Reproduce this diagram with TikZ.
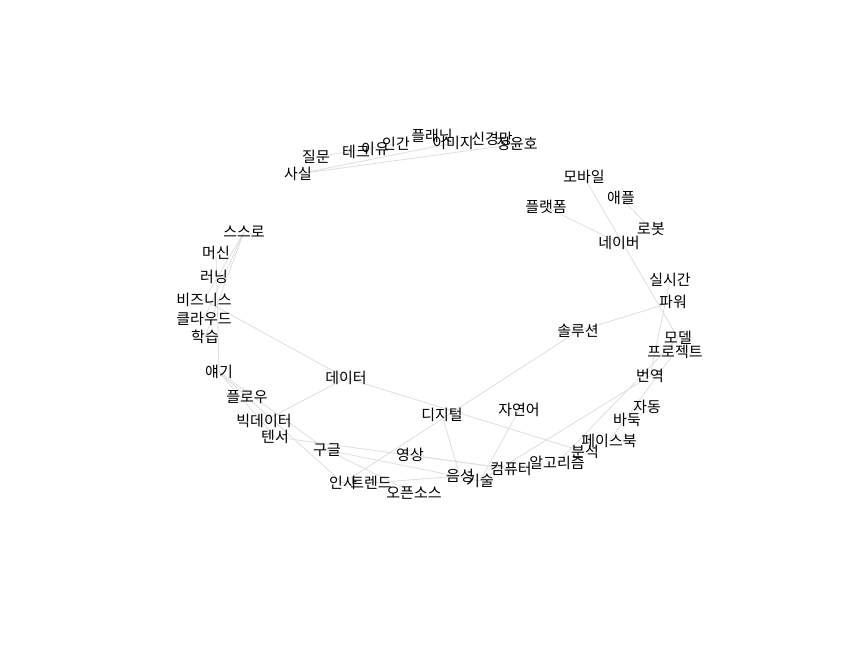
\documentclass[tikz,border=0pt]{standalone}
\usepackage{fontspec}
\newfontfamily\kr{Noto Sans CJK KR}
\usetikzlibrary{backgrounds}

\begin{document}
\begin{tikzpicture}[x=1pt, y=-1pt,
  word/.style={font=\kr\fontsize{15}{16}\selectfont, inner sep=0pt, text=black},
  link/.style={draw=black!13, line width=0.8pt}]
  \useasboundingbox (0,0) rectangle (864,648);

  % top arc
  \node[word] (saeil)   at (298,174) {사실};
  \node[word] (jilmun)  at (316,157) {질문};
  \node[word] (tech)    at (356,152) {테크};
  \node[word] (iyu)     at (375,149) {이유};
  \node[word] (ingan)   at (396,144) {인간};
  \node[word] (planet)  at (432,136) {플래닛};
  \node[word] (image)   at (453,143) {이미지};
  \node[word] (neural)  at (492,139) {신경망};
  \node[word] (yunho)   at (517,144) {정윤호};

  % right side
  \node[word] (mobile)  at (584,177) {모바일};
  \node[word] (apple)   at (621,198) {애플};
  \node[word] (platform) at (546,207) {플랫폼};
  \node[word] (robot)   at (651,229) {로봇};
  \node[word] (naver)   at (619,243) {네이버};
  \node[word] (realtime) at (670,280) {실시간};
  \node[word] (power)   at (673,302) {파워};
  \node[word] (solution) at (578,331) {솔루션};
  \node[word] (model)   at (678,338) {모델};
  \node[word] (project) at (675,352) {프로젝트};
  \node[word] (transl)  at (650,376) {번역};
  \node[word] (auto)    at (647,407) {자동};
  \node[word] (baduk)   at (627,420) {바둑};
  \node[word] (facebook) at (609,441) {페이스북};
  \node[word] (analysis) at (585,452) {분석};
  \node[word] (algo)    at (557,463) {알고리즘};
  \node[word] (computer) at (511,469) {컴퓨터};
  \node[word] (natlang) at (519,410) {자연어};

  % bottom
  \node[word] (tech2)   at (480,481) {기술};
  \node[word] (voice)   at (460,476) {음성};
  \node[word] (digital) at (442,415) {디지털};
  \node[word] (video)   at (410,455) {영상};
  \node[word] (opensrc) at (414,493) {오픈소스};
  \node[word] (trend)   at (371,483) {트렌드};
  \node[word] (insa)    at (343,483) {인사};
  \node[word] (google)  at (327,450) {구글};
  \node[word] (data)    at (346,378) {데이터};

  % left side
  \node[word] (tensor)  at (275,437) {텐서};
  \node[word] (bigdata) at (264,421) {빅데이터};
  \node[word] (flow)    at (247,397) {플로우};
  \node[word] (talk)    at (219,372) {얘기};
  \node[word] (learn)   at (205,337) {학습};
  \node[word] (cloud)   at (204,319) {클라우드};
  \node[word] (business) at (204,300) {비즈니스};
  \node[word] (running) at (214,277) {러닝};
  \node[word] (machine) at (216,253) {머신};
  \node[word] (self)    at (244,232) {스스로};

  \begin{scope}[on background layer]
    \draw[link] (saeil.center) -- (image.center);
    \draw[link] (saeil.center) -- (yunho.center);
    \draw[link] (jilmun.center) -- (ingan.center);
    \draw[link] (mobile.center) -- (model.center);
    \draw[link] (platform.center) -- (naver.center);
    \draw[link] (apple.center) -- (robot.center);
    \draw[link] (solution.center) -- (power.center);
    \draw[link] (realtime.center) -- (transl.center);
    \draw[link] (project.center) -- (facebook.center);
    \draw[link] (model.center) -- (algo.center);
    \draw[link] (transl.center) -- (tech2.center);
    \draw[link] (solution.center) -- (insa.center);
    \draw[link] (data.center) -- (analysis.center);
    \draw[link] (business.center) -- (data.center);
    \draw[link] (data.center) -- (bigdata.center);
    \draw[link] (digital.center) -- (voice.center);
    \draw[link] (natlang.center) -- (tech2.center);
    \draw[link] (machine.center) -- (talk.center);
    \draw[link] (self.center) -- (business.center);
    \draw[link] (self.center) -- (cloud.center);
    \draw[link] (self.center) -- (learn.center);
    \draw[link] (talk.center) -- (google.center);
    \draw[link] (talk.center) -- (insa.center);
    \draw[link] (talk.center) -- (tensor.center);
    \draw[link] (tensor.center) -- (computer.center);
    \draw[link] (google.center) -- (tech2.center);
    \draw[link] (google.center) -- (opensrc.center);
    \draw[link] (video.center) -- (computer.center);
    \draw[link] (trend.center) -- (voice.center);
  \end{scope}
\end{tikzpicture}
\end{document}
